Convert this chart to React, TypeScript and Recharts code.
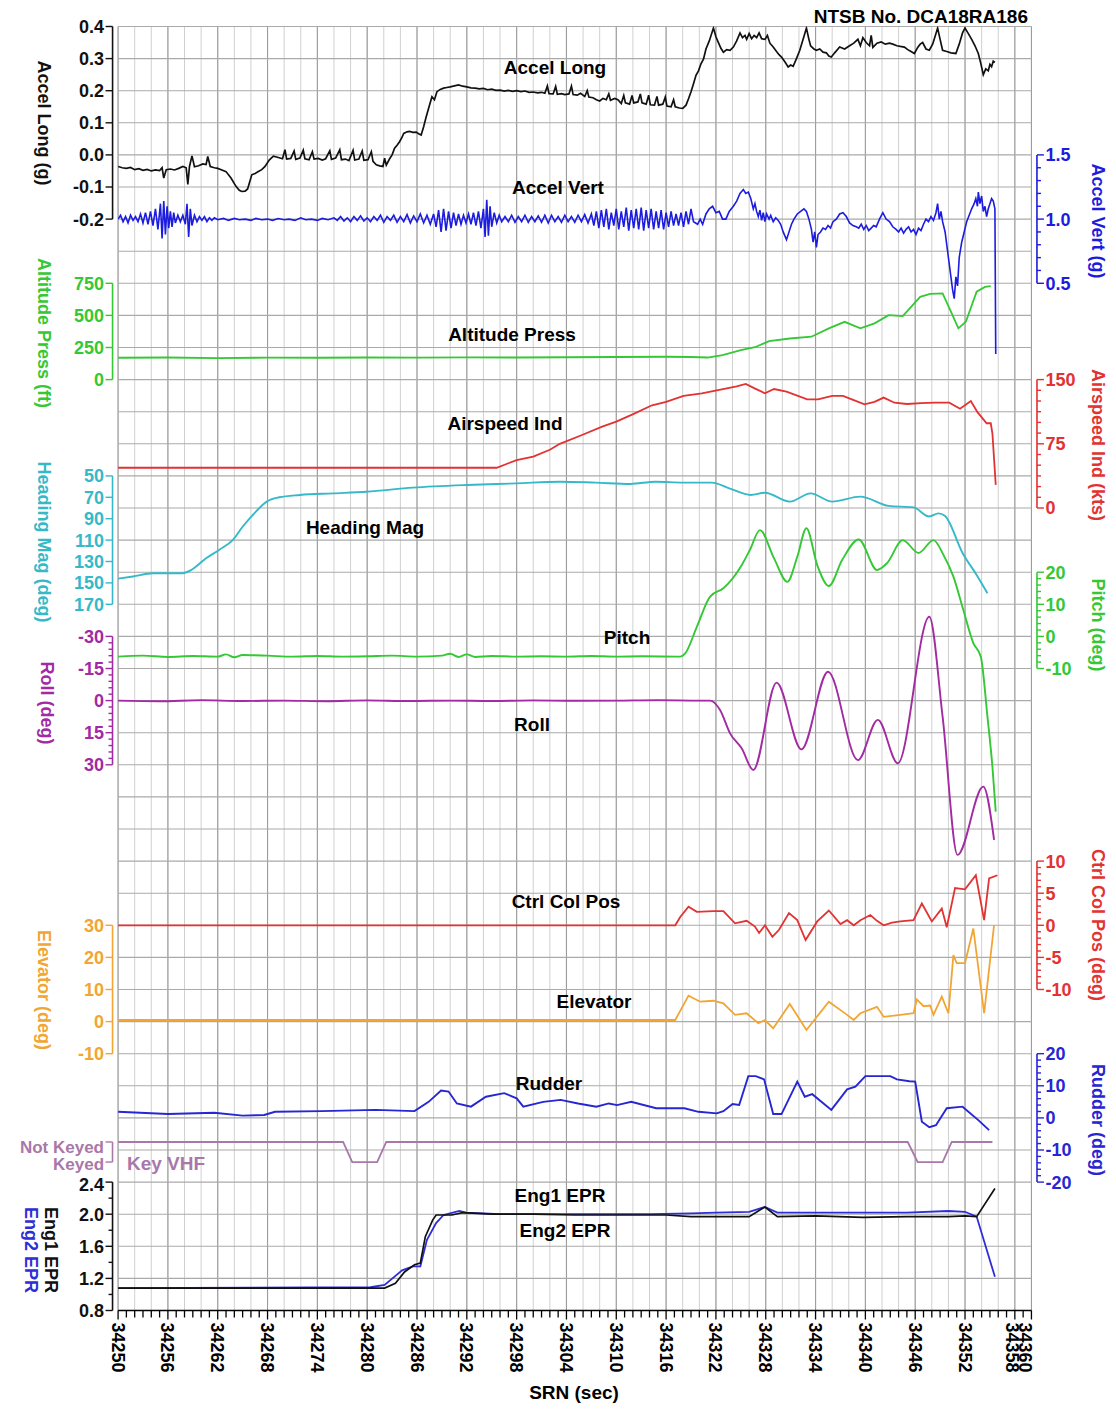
import React from 'react';
import { ComposedChart, Line, XAxis, YAxis, CartesianGrid, ReferenceLine } from 'recharts';

type P = [number, number];

// ---------- tick labels ----------
const srnLabels: number[] = [34250, 34256, 34262, 34268, 34274, 34280, 34286, 34292, 34298, 34304, 34310, 34316, 34322, 34328, 34334, 34340, 34346, 34352, 34358, 34360];
const srnMajorGrid: number[] = [34250, 34256, 34262, 34268, 34274, 34280, 34286, 34292, 34298, 34304, 34310, 34316, 34322, 34328, 34334, 34340, 34346, 34352, 34358, 34360];
const srnAll: number[] = Array.from({ length: 111 }, (_, i) => 34250 + i);
const srnMinorGrid: number[] = Array.from({ length: 56 }, (_, i) => 34250 + 2 * i);
const gridRows: number[] = Array.from({ length: 41 }, (_, i) => i);

// ---------- series data [SRN, value] ----------
const accelLong: P[] = [
[34250.0,-0.036],[34250.5,-0.040],[34251.0,-0.042],[34251.5,-0.039],[34252.0,-0.046],[34252.5,-0.043],[34253.0,-0.048],[34253.5,-0.045],[34254.0,-0.050],[34254.5,-0.047],[34255.0,-0.049],[34255.3,-0.040],[34255.5,-0.072],[34255.8,-0.046],[34256.3,-0.044],[34256.8,-0.047],[34257.3,-0.042],[34257.8,-0.036],[34258.2,-0.040],[34258.4,-0.092],[34258.6,-0.036],[34258.9,-0.003],[34259.2,-0.037],[34259.7,-0.034],[34260.2,-0.028],[34260.6,-0.030],[34260.8,-0.005],[34261.1,-0.036],[34261.6,-0.040],[34262.0,-0.042],[34262.5,-0.047],[34263.0,-0.052],[34263.6,-0.072],[34264.2,-0.098],[34264.6,-0.110],[34264.9,-0.114],[34265.3,-0.113],[34265.6,-0.106],[34266.1,-0.062],[34266.5,-0.058],[34266.9,-0.052],[34267.3,-0.046],[34267.7,-0.036],[34268.2,-0.016],[34268.7,-0.004],[34269.3,-0.008],
[34269.8,-0.012],[34270.1,0.016],[34270.3,-0.013],[34270.8,-0.011],[34271.2,0.012],[34271.4,-0.014],[34271.9,-0.010],[34272.3,0.015],[34272.5,-0.012],[34273.0,-0.015],[34273.4,0.010],[34273.6,-0.013],[34274.1,-0.011],[34274.6,-0.016],[34275.0,-0.012],[34275.5,0.013],[34275.7,-0.014],[34276.2,-0.010],[34276.7,0.016],[34276.9,-0.015],[34277.4,-0.013],[34277.8,-0.018],[34278.3,0.014],[34278.5,-0.016],[34279.0,-0.013],[34279.4,0.012],[34279.6,-0.017],[34280.1,-0.015],[34280.5,0.010],[34280.7,-0.020],[34281.1,-0.031],[34281.5,-0.034],[34281.9,-0.036],[34282.1,-0.010],[34282.3,-0.032],[34282.7,-0.012],[34283.0,0.000],[34283.3,0.021],[34283.6,0.030],[34283.9,0.041],[34284.2,0.055],[34284.4,0.067],[34284.8,0.072],[34285.1,0.073],[34285.5,0.070],[34285.9,0.071],[34286.2,0.066],[34286.5,0.062],[34286.8,0.088],[34287.1,0.118],[34287.4,0.145],[34287.8,0.181],[34288.1,0.172],[34288.4,0.197],[34288.8,0.204],[34289.2,0.208],[34289.6,0.210],[34290.0,0.212],[34290.5,0.215],[34291.0,0.218],[34291.5,0.214],[34292.0,0.212],[34292.5,0.209],[34293.0,0.208],[34293.5,0.206],[34294.0,0.207],[34294.5,0.203],[34295.0,0.205],[34295.5,0.201],[34296.0,0.202],[34296.5,0.199],[34297.0,0.201],[34297.5,0.198],[34298.0,0.200],[34298.5,0.197],[34299.0,0.199],[34299.5,0.195],[34300.0,0.196],[34300.5,0.193],[34301.0,0.195],[34301.4,0.192],[34301.7,0.215],[34301.9,0.191],[34302.4,0.190],[34302.7,0.213],[34302.9,0.189],[34303.4,0.191],[34303.8,0.188],[34304.3,0.190],[34304.6,0.214],[34304.8,0.188],
[34305.3,0.186],[34305.7,0.192],[34306.2,0.182],[34306.5,0.200],[34306.7,0.180],[34307.2,0.178],[34307.6,0.172],[34308.0,0.168],[34308.4,0.176],[34308.8,0.172],[34309.1,0.190],[34309.3,0.170],[34309.8,0.176],[34310.2,0.172],[34310.6,0.160],[34310.9,0.185],[34311.1,0.162],[34311.6,0.158],[34311.9,0.185],[34312.1,0.162],[34312.6,0.165],[34312.9,0.190],[34313.1,0.162],[34313.6,0.158],[34313.9,0.186],[34314.1,0.156],[34314.6,0.155],[34314.9,0.182],[34315.1,0.155],[34315.6,0.158],[34315.9,0.180],[34316.1,0.152],[34316.6,0.150],[34316.9,0.172],[34317.1,0.150],[34317.6,0.146],[34318.0,0.145],[34318.4,0.155],[34318.7,0.175],[34319.0,0.197],[34319.3,0.222],[34319.6,0.248],[34319.9,0.262],[34320.2,0.284],[34320.5,0.298],[34320.8,0.330],[34321.2,0.355],[34321.7,0.395],[34322.0,0.368],[34322.3,0.350],[34322.6,0.332],[34322.9,0.320],[34323.3,0.328],[34323.7,0.326],[34324.1,0.336],[34324.5,0.355],[34324.9,0.380],[34325.2,0.365],[34325.5,0.372],[34325.7,0.360],[34326.0,0.378],[34326.3,0.362],[34326.6,0.372],[34326.9,0.365],[34327.2,0.380],[34327.5,0.362],[34327.9,0.360],[34328.2,0.372],[34328.5,0.348],[34328.9,0.336],[34329.3,0.322],[34329.6,0.312],[34329.9,0.305],[34330.3,0.290],[34330.7,0.274],[34331.0,0.280],[34331.3,0.276],[34331.7,0.300],[34332.1,0.326],[34332.5,0.360],[34332.9,0.395],[34333.2,0.360],[34333.4,0.340],[34333.8,0.330],[34334.1,0.326],[34334.5,0.330],[34334.9,0.320],[34335.3,0.318],[34335.6,0.308],[34335.9,0.305],[34336.3,0.318],[34336.9,0.336],[34337.5,0.330],[34338.1,0.340],[34338.6,0.348],[34339.1,0.360],[34339.4,0.340],[34339.7,0.365],[34340.1,0.350],[34340.5,0.340],[34340.7,0.372],[34340.9,0.335],[34341.4,0.348],[34341.9,0.352],[34342.4,0.345],[34342.9,0.348],[34343.3,0.345],[34343.8,0.340],[34344.2,0.338],[34344.7,0.336],[34345.1,0.328],[34345.5,0.322],[34345.9,0.316],[34346.3,0.335],[34346.6,0.345],[34346.9,0.350],[34347.3,0.330],[34347.7,0.326],[34348.1,0.345],[34348.4,0.370],[34348.7,0.395],[34349.0,0.360],[34349.3,0.326],[34349.8,0.322],[34350.3,0.318],[34350.9,0.316],[34351.3,0.345],[34351.7,0.380],[34352.0,0.395],[34352.4,0.378],[34352.8,0.360],[34353.2,0.340],[34353.6,0.316],[34353.9,0.285],[34354.2,0.250],[34354.5,0.268],[34354.8,0.262],[34355.0,0.282],[34355.2,0.275],[34355.4,0.292],[34355.6,0.288]
];

const accelVert: P[] = [
[34250.0,1.00],[34250.3,1.03],[34250.6,0.98],[34250.9,1.02],[34251.2,0.97],[34251.5,1.03],[34251.8,0.99],[34252.1,1.02],[34252.4,0.98],[34252.7,1.04],[34253.0,0.97],[34253.3,1.05],[34253.6,0.96],[34253.9,1.06],[34254.2,0.95],[34254.5,1.08],[34254.8,0.92],[34255.1,1.12],[34255.3,0.85],[34255.5,1.14],[34255.7,0.88],[34255.9,1.10],[34256.1,0.93],[34256.3,1.06],[34256.5,0.94],[34256.7,1.05],[34256.9,0.97],[34257.2,1.03],[34257.5,0.98],[34257.8,1.03],[34258.1,0.96],[34258.3,1.12],[34258.5,0.86],[34258.7,1.08],[34258.9,0.95],[34259.2,1.03],[34259.5,0.98],[34259.8,1.02],[34260.1,0.99],[34260.4,1.02],[34260.7,0.98],[34261.0,1.01],[34261.3,0.99],[34261.6,1.01],
[34262.0,0.995],[34262.7,1.005],[34263.3,0.99],[34264.0,1.005],[34264.6,0.995],[34265.3,1.0],[34266.0,0.99],[34266.6,1.005],[34267.3,0.995],[34268.0,1.0],[34268.6,0.99],[34269.3,1.005],[34270.0,0.995],[34270.6,1.0],[34271.3,0.99],[34272.0,1.01],[34272.6,0.995],[34273.3,1.0],[34274.0,0.99],[34274.6,1.005],[34275.3,0.995],[34276.0,1.01],
[34276.4,0.99],[34276.8,1.02],[34277.2,0.985],[34277.6,1.01],[34278.0,0.98],[34278.4,1.02],[34278.8,0.99],[34279.2,1.025],[34279.6,0.985],[34280.0,1.01],[34280.4,0.98],[34280.8,1.02],[34281.2,0.99],[34281.6,1.03],[34282.0,0.975],[34282.4,1.02],[34282.8,0.99],[34283.2,1.03],[34283.6,0.975],[34284.0,1.02],[34284.4,0.98],[34284.8,1.035],[34285.2,0.97],[34285.6,1.025],[34286.0,0.98],[34286.4,1.04],[34286.8,0.97],[34287.2,1.03],[34287.6,0.96],[34288.0,1.04],[34288.3,0.94],[34288.6,1.07],[34288.9,0.90],[34289.2,1.08],[34289.5,0.91],[34289.8,1.06],[34290.1,0.93],[34290.4,1.05],[34290.7,0.95],[34291.0,1.04],[34291.3,0.96],[34291.6,1.03],[34291.9,0.97],[34292.2,1.04],[34292.5,0.96],[34292.8,1.05],[34293.1,0.95],[34293.4,1.06],[34293.7,0.93],[34294.0,1.08],[34294.2,0.86],[34294.4,1.15],[34294.6,0.87],[34294.8,1.10],[34295.0,0.94],[34295.3,1.05],[34295.6,0.97],[34295.9,1.03],[34296.2,0.98],[34296.6,1.02],[34297.0,0.98],[34297.4,1.03],[34297.8,0.975],[34298.2,1.02],[34298.6,0.98],[34299.0,1.03],[34299.4,0.975],[34299.8,1.02],[34300.2,0.98],[34300.6,1.025],[34301.0,0.975],[34301.4,1.03],[34301.8,0.97],[34302.2,1.03],[34302.6,0.98],[34303.0,1.02],[34303.4,0.975],[34303.8,1.03],[34304.2,0.98],[34304.6,1.02],[34305.0,0.975],[34305.4,1.03],[34305.8,0.98],[34306.2,1.035],[34306.6,0.97],[34307.0,1.04],
[34307.3,0.95],[34307.6,1.06],[34307.9,0.93],[34308.2,1.07],[34308.5,0.94],[34308.8,1.08],[34309.1,0.92],[34309.4,1.05],[34309.7,0.95],[34310.0,1.08],[34310.3,0.92],[34310.6,1.06],[34310.9,0.94],[34311.2,1.09],[34311.5,0.91],[34311.8,1.07],[34312.1,0.93],[34312.4,1.08],[34312.7,0.92],[34313.0,1.09],[34313.3,0.91],[34313.6,1.07],[34313.9,0.93],[34314.2,1.08],[34314.5,0.92],[34314.8,1.06],[34315.1,0.93],[34315.4,1.07],[34315.7,0.92],[34316.0,1.05],[34316.3,0.94],[34316.6,1.06],[34316.9,0.95],[34317.2,1.04],[34317.5,0.95],[34317.8,1.05],[34318.1,0.94],[34318.4,1.06],[34318.7,0.96],[34319.0,1.08],[34319.3,0.98],
[34319.8,0.96],[34320.1,1.00],[34320.4,0.96],[34320.8,1.04],[34321.2,1.08],[34321.6,1.10],[34322.0,1.05],[34322.4,1.06],[34322.8,1.00],[34323.2,1.00],[34323.6,1.06],[34324.1,1.10],[34324.5,1.14],[34324.9,1.20],[34325.3,1.23],[34325.6,1.20],[34325.9,1.21],[34326.2,1.16],[34326.5,1.08],[34326.7,1.12],[34326.9,1.06],[34327.1,1.02],[34327.3,1.07],[34327.5,0.99],[34327.7,1.05],[34327.9,0.98],[34328.1,1.04],[34328.4,1.00],[34328.6,1.03],[34328.9,0.98],[34329.2,1.01],[34329.5,0.99],[34329.8,0.96],[34330.1,0.90],[34330.5,0.84],[34330.8,0.90],[34331.1,0.96],[34331.4,1.00],[34331.8,1.04],[34332.2,1.06],[34332.6,1.08],[34332.9,1.06],[34333.2,1.00],[34333.5,0.92],[34333.7,0.82],[34333.9,0.90],[34334.1,0.78],[34334.3,0.88],[34334.6,0.90],[34334.9,0.93],[34335.2,0.92],[34335.5,0.95],[34335.8,0.93],[34336.1,0.98],[34336.5,1.00],[34336.9,1.04],[34337.3,1.05],[34337.7,1.02],[34338.1,0.97],[34338.5,0.95],[34338.9,0.94],[34339.2,0.93],[34339.5,0.96],[34339.8,0.92],[34340.1,0.95],[34340.4,0.91],[34340.7,0.93],[34341.0,0.95],[34341.3,0.94],[34341.7,1.00],[34342.1,1.05],[34342.5,1.00],[34342.9,0.98],[34343.3,0.94],[34343.7,0.92],[34344.0,0.90],[34344.3,0.93],[34344.6,0.89],[34344.9,0.92],[34345.2,0.94],[34345.5,0.90],[34345.8,0.92],[34346.1,0.88],[34346.4,0.93],[34346.7,0.91],[34347.0,0.96],[34347.3,1.00],[34347.6,0.98],[34347.9,1.02],[34348.2,0.99],[34348.5,1.05],[34348.7,1.12],[34348.9,1.00],[34349.1,1.06],[34349.3,0.98],[34349.6,0.90],[34349.9,0.75],[34350.2,0.60],[34350.5,0.45],[34350.7,0.38],[34350.9,0.55],[34351.1,0.48],[34351.3,0.70],[34351.6,0.82],[34351.9,0.90],[34352.2,0.98],[34352.5,1.03],[34352.8,1.08],[34353.1,1.12],[34353.3,1.16],[34353.5,1.10],[34353.6,1.21],[34353.8,1.12],[34354.0,1.18],[34354.2,1.06],[34354.4,1.10],[34354.6,1.02],[34354.8,1.08],[34355.0,1.12],[34355.2,1.16],[34355.4,1.14],[34355.6,1.08],[34355.7,-0.05]
];

const altitudePress: P[] = [
[34250,170],[34256,172],[34262,168],[34268,171],[34274,170],[34280,172],[34286,171],[34292,173],[34298,172],[34304,174],[34310,176],[34316,178],[34319,176],[34321,172],[34322.8,190],[34325,230],[34326.7,252],[34328.4,300],[34330.9,320],[34333.5,334],[34335.6,399],[34337.5,450],[34339.4,399],[34341.1,438],[34342.8,502],[34344.5,495],[34346.6,645],[34347.8,667],[34349.3,672],[34350.4,516],[34351.2,399],[34352.1,451],[34353.4,685],[34354.4,722],[34355.1,728]
];

const airspeedInd: P[] = [
[34250,47],[34260,47],[34270,47],[34280,47],[34290,47],[34295.6,47],[34298,56],[34300,60],[34302,68],[34303.2,75],[34305.8,85],[34308.3,95],[34310,101],[34312.1,110],[34314.3,120],[34316,124],[34318.1,131],[34320.3,134],[34322.4,138],[34324.5,142],[34325.6,145],[34326.6,140],[34327.9,134],[34329,139],[34330.5,136],[34333,127],[34334.3,127],[34336,131],[34337.3,131],[34338.6,126],[34339.9,121],[34341.1,124],[34342.2,129],[34343.5,123],[34345,121.5],[34346.7,122.5],[34348.4,123],[34350.1,123],[34351.4,116],[34352.7,125],[34353.5,112],[34354.6,99],[34355.1,99],[34355.3,87],[34355.7,27]
];

const headingMag: P[] = [
[34250,146],[34251.8,144],[34254.2,141],[34257.8,141],[34258.8,138],[34260.6,127],[34262.2,119],[34263.8,110],[34265,97.5],[34266.4,85],[34267.9,74],[34269.4,70],[34271.9,67.8],[34275.9,66.3],[34279.9,64.8],[34285.5,61],[34292,58.5],[34298,57],[34303.2,55.4],[34307.5,56.3],[34311.7,57.5],[34314.7,55.4],[34318.1,56.3],[34321.5,56.3],[34323.6,61.6],[34326.2,67.8],[34327.9,65.7],[34330.9,74],[34333.4,66.3],[34336,74],[34339.4,69.4],[34342.8,78],[34345.8,79.4],[34347.7,88],[34348.8,85],[34349.6,87.5],[34351.7,122],[34353.4,142.6],[34354.7,159.7]
];

const pitch: P[] = [
[34250,-6.3],[34253,-6.0],[34256,-6.4],[34259,-6.1],[34262,-6.3],[34263,-5.6],[34264,-6.5],[34265,-5.8],[34268,-6.0],[34271,-6.3],[34274,-6.1],[34277,-6.3],[34280,-6.2],[34283,-6.0],[34286,-6.3],[34289,-6.0],[34290,-5.4],[34291,-6.4],[34292,-5.6],[34293,-6.4],[34295,-6.1],[34298,-6.3],[34301,-6.2],[34304,-6.3],[34307,-6.1],[34310,-6.3],[34313,-6.2],[34317.7,-6.3],[34318.3,-5.3],[34319.7,3.0],[34321.3,12.4],[34322.9,15],[34325.1,22.2],[34326.1,27],[34327.3,33.1],[34329,24.3],[34330.6,17],[34331.8,24.8],[34332.9,33.7],[34334.2,22.2],[34335.6,15.7],[34337.2,23.8],[34339.2,30.2],[34341.4,20.7],[34342.6,22.8],[34344.5,30],[34346.4,26],[34348.2,30],[34349.4,25.4],[34350.6,18.6],[34351.8,8.2],[34353,-2.1],[34353.9,-6.3],[34354.7,-25],[34355.3,-40.6],[34355.7,-54.6]
];

const roll: P[] = [
[34250,0],[34255,0.3],[34260,-0.2],[34265,0.2],[34270,0],[34275,0.3],[34280,-0.1],[34285,0.2],[34290,0],[34295,0.2],[34300,-0.1],[34305,0.1],[34310,0],[34315,-0.2],[34320,0],[34321.3,0],[34322.5,4.4],[34323.7,15.3],[34325.1,22.3],[34326.5,32.4],[34329.3,-8.4],[34332.3,22.8],[34335.5,-13.5],[34339.1,27.8],[34341.5,9],[34343.9,29.3],[34347.7,-39.2],[34349.3,7.5],[34351.1,72.1],[34354.2,40.2],[34355.5,65.1]
];

const ctrlColPos: P[] = [
[34250,0],[34317.1,0],[34317.7,1.3],[34318.7,2.9],[34319.7,2.1],[34321.7,2.2],[34322.9,2.2],[34324.3,0.3],[34325.7,0.7],[34326.7,-0.2],[34327.2,-1.2],[34327.9,0],[34328.8,-1.8],[34329.6,-0.7],[34330.8,1.9],[34331.8,0.8],[34332.8,-2.3],[34334.2,0.6],[34335.6,2.3],[34337,0.2],[34337.8,0.8],[34338.6,0],[34339.4,0.8],[34340.6,1.6],[34341.4,0.7],[34342.2,0],[34343.2,0.4],[34344.2,0.6],[34345.8,0.8],[34346.8,3.4],[34348,0.6],[34349.2,2.6],[34349.8,-0.3],[34350.8,5.8],[34352,5.6],[34353.3,7.8],[34354.3,0.8],[34354.9,7.3],[34355.9,7.8]
];

const elevator: P[] = [
[34250,0.5],[34317.1,0.5],[34318.7,8.1],[34320.1,6.2],[34321.7,6.5],[34322.9,5.7],[34324.3,2.1],[34325.7,2.6],[34327.1,-0.5],[34327.9,0.5],[34328.9,-2.1],[34330.9,5.5],[34332.9,-2.6],[34335.6,6.2],[34337.8,2.1],[34338.6,0.5],[34339.4,2.6],[34341.4,4.6],[34342.2,1.5],[34344.2,2.1],[34345.8,2.6],[34346.2,6.9],[34347,4.8],[34347.8,5],[34348.2,2.1],[34349.2,7.8],[34350,2.6],[34350.6,20.7],[34351,18.2],[34352,18.2],[34353,29],[34354.3,2.6],[34355.5,30.1]
];

const rudder: P[] = [
[34250,1.9],[34256,1.2],[34261.6,1.6],[34265,0.7],[34267.6,0.9],[34268.9,1.9],[34274.5,2.1],[34281,2.5],[34285.7,2.1],[34287.4,5],[34288.9,8.5],[34289.8,8.2],[34290.8,4.5],[34292.5,3.5],[34294.3,6.6],[34296.5,7.7],[34298,6.1],[34298.8,3.5],[34301.2,5],[34303.3,5.6],[34305.4,4.5],[34307.6,3.5],[34309.1,4.5],[34310.1,4],[34311.8,5],[34314.8,3],[34318.2,3],[34319.9,1.9],[34322.1,1.4],[34322.9,2.1],[34324,4.3],[34324.8,4],[34325.9,13],[34326.8,13],[34327.8,12],[34328.9,1.2],[34329.9,1.2],[34331.8,11.3],[34332.7,6.6],[34333.6,7.4],[34335.9,2.5],[34337.8,8.9],[34338.8,9.7],[34340,13],[34343,13],[34343.8,12],[34345.3,11.4],[34346,11.3],[34346.8,-1.2],[34347.7,-2.9],[34348.5,-2.3],[34349.8,3],[34351.7,3.5],[34353.6,-0.7],[34354.9,-3.8]
];

const keyVhf: P[] = [
[34250,1],[34277.1,1],[34278.2,0],[34281.2,0],[34282.3,1],[34345.1,1],[34346.3,0],[34349.3,0],[34350.4,1],[34355.3,1]
];

const eng1Epr: P[] = [
[34250,1.08],[34282.1,1.08],[34283.4,1.14],[34284.5,1.28],[34285.7,1.37],[34286.4,1.39],[34287,1.72],[34287.9,1.93],[34288.3,1.99],[34290.2,1.99],[34291.5,2.02],[34295,2.0],[34300,2.0],[34305,1.99],[34310,1.99],[34316,1.99],[34319,1.97],[34322,1.97],[34326,1.97],[34327.9,2.09],[34329.4,1.97],[34334,1.98],[34339.7,1.96],[34345,1.97],[34350,1.97],[34352,1.98],[34353.4,1.97],[34355.6,2.32]
];

const eng2Epr: P[] = [
[34250,1.08],[34280.4,1.09],[34282.1,1.12],[34284.2,1.30],[34285.5,1.35],[34286.4,1.35],[34287.2,1.68],[34288.3,1.89],[34289.2,1.99],[34291.1,2.04],[34291.9,2.02],[34296,2.0],[34302,2.0],[34308,2.0],[34314,2.0],[34319,2.01],[34322,2.02],[34326,2.03],[34327.9,2.09],[34329.4,2.02],[34334,2.02],[34340,2.02],[34345,2.02],[34350,2.04],[34352,2.03],[34353.4,1.97],[34355.6,1.22]
];

// ---------- axis ticks ----------
const alTicks = [0.4, 0.3, 0.2, 0.1, 0.0, -0.1, -0.2];
const avTicks = [1.5, 1.0, 0.5];
const avMinor = [1.4, 1.3, 1.2, 1.1, 0.9, 0.8, 0.7, 0.6];
const altTicks = [750, 500, 250, 0];
const iasTicks = [150, 75, 0];
const iasMinor = [137.5, 125, 112.5, 100, 87.5, 62.5, 50, 37.5, 25, 12.5];
const hdgTicks = [50, 70, 90, 110, 130, 150, 170];
const pitchTicks = [20, 10, 0, -10];
const pitchMinor = [18, 16, 14, 12, 8, 6, 4, 2, -2, -4, -6, -8];
const rollTicks = [-30, -15, 0, 15, 30];
const rollMinor = [-27, -24, -21, -18, -12, -9, -6, -3, 3, 6, 9, 12, 18, 21, 24, 27];
const ccpTicks = [10, 5, 0, -5, -10];
const ccpMinor = [9, 8, 7, 6, 4, 3, 2, 1, -1, -2, -3, -4, -6, -7, -8, -9];
const elevTicks = [30, 20, 10, 0, -10];
const rudTicks = [20, 10, 0, -10, -20];
const rudMinor = [18, 16, 14, 12, 8, 6, 4, 2, -2, -4, -6, -8, -12, -14, -16, -18];
const keyTicks = [1, 0];
const keyLabels = ['Not Keyed', 'Keyed'];
const eprTicks = [2.4, 2.0, 1.6, 1.2, 0.8];
const eprMinor = [2.2, 1.8, 1.4, 1.0];

// ---------- layout ----------
const W = 1100;
const H = 1400;
const PLOT_H = 1284;
const AXW = 0.01;
const FONT = "'Liberation Sans', Arial, Helvetica, sans-serif";
const FS = 18;

const C = {
  black: '#111111',
  av: '#1c1ce0',
  green: '#35c835',
  red: '#e23232',
  cyan: '#35b9c9',
  purple: '#a22aa2',
  orange: '#f2a533',
  rud: '#2626d2',
  key: '#a977a9',
  epr2: '#2e2ed6',
};

type AxisCfg = {
  id: string;
  side: 'left' | 'right';
  domain: [number, number];
  reversed?: boolean;
  major: number[];
  minor: number[];
  color: string;
  fmt: (v: number) => string;
  dys?: number[];
  fs?: number;
};

const AXES: AxisCfg[] = [
  { id: 'al', side: 'left', domain: [-3.6, 0.4], major: alTicks, minor: [], color: C.black, fmt: v => v.toFixed(1) },
  { id: 'alt', side: 'left', domain: [-7250, 2750], major: altTicks, minor: [], color: C.green, fmt: v => String(v) },
  { id: 'hdg', side: 'left', domain: [-370, 830], reversed: true, major: hdgTicks, minor: [], color: C.cyan, fmt: v => String(v) },
  { id: 'roll', side: 'left', domain: [-315, 285], reversed: true, major: rollTicks, minor: rollMinor, color: C.purple, fmt: v => String(v) },
  { id: 'elev', side: 'left', domain: [-90, 310], major: elevTicks, minor: [], color: C.orange, fmt: v => String(v) },
  { id: 'key', side: 'left', domain: [-7.4, 56.6], major: keyTicks, minor: [], color: C.key, fmt: v => keyLabels[keyTicks.indexOf(v)], dys: [5, 2], fs: 17 },
  { id: 'epr', side: 'left', domain: [0.8, 16.8], major: eprTicks, minor: eprMinor, color: C.black, fmt: v => v.toFixed(1), dys: [2, 0, 0, 0, 0] },
  { id: 'av', side: 'right', domain: [-7.5, 2.5], major: avTicks, minor: avMinor, color: C.av, fmt: v => v.toFixed(1) },
  { id: 'ias', side: 'right', domain: [-937.5, 562.5], major: iasTicks, minor: iasMinor, color: C.red, fmt: v => String(v) },
  { id: 'pitch', side: 'right', domain: [-210, 190], major: pitchTicks, minor: pitchMinor, color: C.green, fmt: v => String(v) },
  { id: 'ccp', side: 'right', domain: [-60, 140], major: ccpTicks, minor: ccpMinor, color: C.red, fmt: v => String(v) },
  { id: 'rud', side: 'right', domain: [-60, 340], major: rudTicks, minor: rudMinor, color: C.rud, fmt: v => String(v) },
];

const near = (a: number, b: number) => Math.abs(a - b) < 1e-6;

function makeYTick(cfg: AxisCfg) {
  const span = Math.abs(cfg.domain[1] - cfg.domain[0]);
  const bracketLen = (Math.abs(cfg.major[cfg.major.length - 1] - cfg.major[0]) / span) * PLOT_H;
  return (props: any) => {
    const { x, y, payload } = props;
    const v = Number(payload.value);
    const mi = cfg.major.findIndex(m => near(m, v));
    const isMajor = mi >= 0;
    const s = cfg.side === 'left' ? -1 : 1;
    const bx = x + s * 5.5;
    const len = isMajor ? 7 : 4;
    const first = mi === 0;
    const dy = isMajor && cfg.dys ? cfg.dys[mi] || 0 : 0;
    return (
      <g>
        {first && <line x1={bx} x2={bx} y1={y} y2={y + bracketLen} stroke={cfg.color} strokeWidth={1.6} />}
        <line x1={bx} x2={bx + s * len} y1={y} y2={y} stroke={cfg.color} strokeWidth={1.4} />
        {isMajor && (
          <text
            x={bx + s * (len + 1.5)}
            y={y + dy}
            dy="0.36em"
            textAnchor={s < 0 ? 'end' : 'start'}
            fill={cfg.color}
            fontSize={cfg.fs || FS}
            fontWeight="bold"
            fontFamily={FONT}
          >
            {cfg.fmt(v)}
          </text>
        )}
      </g>
    );
  };
}

const XTick = (props: any) => {
  const { x, y, payload } = props;
  const v = Number(payload.value);
  const isMajor = srnLabels.includes(v);
  const len = isMajor ? 9 : 7;
  const shift = v === 34360 ? -6 : v === 34358 ? -2 : 0;
  return (
    <g>
      <line x1={x} x2={x} y1={y} y2={y + len} stroke="#000" strokeWidth={1.3} />
      {isMajor && (
        <text
          transform={`translate(${x + shift},${y + 12}) rotate(90)`}
          dy="0.36em"
          textAnchor="start"
          fill="#000"
          fontSize={FS}
          fontWeight="bold"
          fontFamily={FONT}
        >
          {v}
        </text>
      )}
    </g>
  );
};

const pts = (a: P[]) => a.map(([t, v]) => ({ t, v }));

type SeriesCfg = { name: string; data: P[]; axis: string; color: string; width: number; curve: 'linear' | 'monotone' };
const SERIES: SeriesCfg[] = [
  { name: 'Accel Long', data: accelLong, axis: 'al', color: C.black, width: 1.7, curve: 'linear' },
  { name: 'Accel Vert', data: accelVert, axis: 'av', color: C.av, width: 1.6, curve: 'linear' },
  { name: 'Altitude Press', data: altitudePress, axis: 'alt', color: C.green, width: 1.8, curve: 'linear' },
  { name: 'Airspeed Ind', data: airspeedInd, axis: 'ias', color: C.red, width: 1.8, curve: 'linear' },
  { name: 'Heading Mag', data: headingMag, axis: 'hdg', color: C.cyan, width: 1.9, curve: 'monotone' },
  { name: 'Pitch', data: pitch, axis: 'pitch', color: C.green, width: 1.9, curve: 'monotone' },
  { name: 'Roll', data: roll, axis: 'roll', color: C.purple, width: 1.9, curve: 'monotone' },
  { name: 'Ctrl Col Pos', data: ctrlColPos, axis: 'ccp', color: C.red, width: 1.8, curve: 'linear' },
  { name: 'Elevator', data: elevator, axis: 'elev', color: C.orange, width: 1.8, curve: 'linear' },
  { name: 'Rudder', data: rudder, axis: 'rud', color: C.rud, width: 1.9, curve: 'linear' },
  { name: 'Key VHF', data: keyVhf, axis: 'key', color: C.key, width: 1.8, curve: 'linear' },
  { name: 'Eng2 EPR', data: eng2Epr, axis: 'epr', color: C.epr2, width: 1.8, curve: 'linear' },
  { name: 'Eng1 EPR', data: eng1Epr, axis: 'epr', color: C.black, width: 1.7, curve: 'linear' },
];

// texts placed in page coordinates (overlay svg covers the whole page)
const TX = ({ x, y, c = '#000', s = FS, rot = false, anchor = 'middle', children }: any) => (
  <text
    transform={`translate(${x},${y})${rot ? ' rotate(90)' : ''}`}
    dy="0.36em"
    fill={c}
    fontSize={s}
    fontWeight="bold"
    fontFamily={FONT}
    textAnchor={anchor}
  >
    {children}
  </text>
);

export default function App() {
  return (
    <div style={{ position: 'relative', width: W, height: H, background: '#fff' }}>
      <ComposedChart width={W} height={H} margin={{ top: 18.5, right: 76.5, bottom: 37.5, left: 110 }}>
        <CartesianGrid xAxisId={0} verticalValues={srnMinorGrid} stroke="#d0d0d0" strokeWidth={1} horizontal={false} />
        <CartesianGrid xAxisId={0} verticalValues={srnMajorGrid} stroke="#9c9c9c" strokeWidth={1.1} horizontal={false} />
        {gridRows.map(g => (
          <ReferenceLine key={'h' + g} yAxisId={0} xAxisId={0} y={g} stroke="#aaaaaa" strokeWidth={1.1} ifOverflow="visible" />
        ))}
        <XAxis
          xAxisId={0}
          dataKey="t"
          type="number"
          domain={[34250, 34360]}
          allowDataOverflow
          ticks={srnAll}
          interval={0}
          tick={XTick}
          tickLine={false}
          tickSize={0}
          tickMargin={0}
          axisLine={{ stroke: '#000', strokeWidth: 1.3 }}
          height={60}
        />
        <YAxis
          yAxisId={0}
          type="number"
          domain={[0, 40]}
          allowDataOverflow
          ticks={gridRows}
          interval={0}
          tick={false}
          tickLine={false}
          axisLine={false}
          width={AXW}
          reversed
        />
        {AXES.map(a => (
          <YAxis
            key={a.id}
            yAxisId={a.id}
            orientation={a.side}
            type="number"
            domain={a.domain}
            allowDataOverflow
            reversed={!!a.reversed}
            ticks={[...a.major, ...a.minor]}
            interval={0}
            tick={makeYTick(a)}
            tickLine={false}
            tickSize={0}
            tickMargin={0}
            axisLine={false}
            width={AXW}
          />
        ))}
        {SERIES.map(s => (
          <Line
            key={s.name}
            data={pts(s.data)}
            dataKey="v"
            xAxisId={0}
            yAxisId={s.axis}
            type={s.curve}
            stroke={s.color}
            strokeWidth={s.width}
            dot={false}
            activeDot={false}
            isAnimationActive={false}
          />
        ))}
      </ComposedChart>
      <svg width={1116} height={1410} style={{ position: 'absolute', left: -8, top: -8, pointerEvents: 'none' }}>
        <TX x={1028} y={16} s={19} anchor="end">NTSB No. DCA18RA186</TX>
        {/* left axis titles */}
        <TX x={44} y={123} rot c={C.black}>Accel Long (g)</TX>
        <TX x={44} y={333} rot c={C.green}>Altitude Press (ft)</TX>
        <TX x={44} y={542} rot c={C.cyan}>Heading Mag (deg)</TX>
        <TX x={47} y={703} rot c={C.purple}>Roll (deg)</TX>
        <TX x={44} y={990} rot c={C.orange}>Elevator (deg)</TX>
        <TX x={51} y={1250} rot c={C.black}>Eng1 EPR</TX>
        <TX x={31} y={1250} rot c={C.epr2}>Eng2 EPR</TX>
        {/* right axis titles */}
        <TX x={1098} y={221} rot c={C.av}>Accel Vert (g)</TX>
        <TX x={1098} y={445} rot c={C.red}>Airspeed Ind (kts)</TX>
        <TX x={1098} y={625} rot c={C.green}>Pitch (deg)</TX>
        <TX x={1098} y={925} rot c={C.red}>Ctrl Col Pos (deg)</TX>
        <TX x={1098} y={1120} rot c={C.rud}>Rudder (deg)</TX>
        {/* series labels */}
        <TX x={555} y={67} s={19}>Accel Long</TX>
        <TX x={558} y={187} s={19}>Accel Vert</TX>
        <TX x={512} y={334} s={19}>Altitude Press</TX>
        <TX x={505} y={423} s={19}>Airspeed Ind</TX>
        <TX x={365} y={527} s={19}>Heading Mag</TX>
        <TX x={627} y={637} s={19}>Pitch</TX>
        <TX x={532} y={724} s={19}>Roll</TX>
        <TX x={566} y={901} s={19}>Ctrl Col Pos</TX>
        <TX x={594} y={1001} s={19}>Elevator</TX>
        <TX x={549} y={1083} s={19}>Rudder</TX>
        <TX x={166} y={1163} s={19} c={C.key}>Key VHF</TX>
        <TX x={560} y={1195} s={19}>Eng1 EPR</TX>
        <TX x={565} y={1230} s={19}>Eng2 EPR</TX>
        <TX x={574} y={1392} s={19}>SRN (sec)</TX>
      </svg>
    </div>
  );
}
